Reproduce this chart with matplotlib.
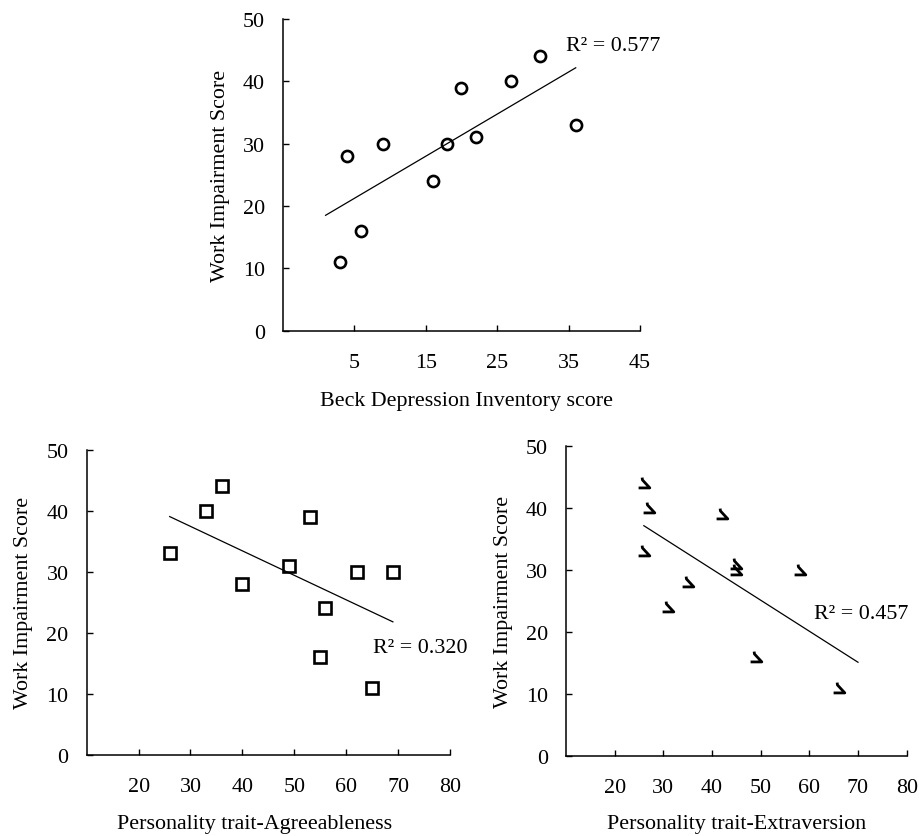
import numpy as np
import matplotlib
matplotlib.use("Agg")
import matplotlib.pyplot as plt
from matplotlib.path import Path

plt.rcParams['font.family'] = ['Liberation Serif', 'DejaVu Serif']

# Data
work_impairment = [11, 28, 16, 30, 24, 30, 39, 31, 40, 44, 33]
bdi = [3, 4, 6, 9, 16, 18, 20, 22, 27, 31, 36]

agree_x = [26, 33, 36, 40, 49, 53, 55, 56, 62, 65, 69]
agree_y = [33, 40, 44, 28, 31, 39, 16, 24, 30, 11, 30]

extra_x = [26, 27, 26, 31, 35, 42, 45, 45, 58, 49, 66]
extra_y = [44, 40, 33, 24, 28, 39, 31, 30, 30, 16, 11]

y_ticks = [0, 10, 20, 30, 40, 50]
bdi_ticks = [5, 15, 25, 35, 45]
trait_ticks = [20, 30, 40, 50, 60, 70, 80]

FS = 15.8

fig = plt.figure(figsize=(9.2, 8.37), dpi=100)
ax_top = fig.add_axes([0.3073, 0.6037, 0.3884, 0.3724])
ax_bl = fig.add_axes([0.0942, 0.0968, 0.3949, 0.3648])
ax_br = fig.add_axes([0.6152, 0.0959, 0.3703, 0.3704])


def style(ax, xlim, xticks, xlabel, ylab_x, xlab_x, xlab_y):
    ax.set_xlim(*xlim)
    ax.set_ylim(0, 50)
    ax.set_xticks(xticks)
    ax.set_yticks(y_ticks)
    for s in ['top', 'right']:
        ax.spines[s].set_visible(False)
    for s in ['left', 'bottom']:
        ax.spines[s].set_linewidth(1.1)
    ax.tick_params(axis='x', direction='in', length=4.5, width=1.0, pad=16, labelsize=FS)
    ax.tick_params(axis='y', direction='in', length=4.5, width=1.0, pad=13, labelsize=FS)
    ax.set_ylabel('Work Impairment Score', fontsize=FS)
    ax.yaxis.set_label_coords(ylab_x, 0.5)
    ax.yaxis.label.set_va('center')
    ax.set_xlabel(xlabel, fontsize=FS)
    ax.xaxis.set_label_coords(xlab_x, xlab_y)
    ax.xaxis.label.set_va('center')


def trend(ax, x, y, x0, x1):
    x = np.asarray(x, float)
    y = np.asarray(y, float)
    m, b = np.polyfit(x, y, 1)
    r2 = np.corrcoef(x, y)[0, 1] ** 2
    xs = np.array([x0, x1])
    ax.plot(xs, m * xs + b, color='black', lw=0.9)
    return r2


# Top: BDI
style(ax_top, (-5, 45), bdi_ticks, 'Beck Depression Inventory score', -0.175, 0.513, -0.2246)
ax_top.plot(bdi, work_impairment, linestyle='none', marker='o', markersize=8,
            markerfacecolor='none', markeredgecolor='black', markeredgewidth=1.9)
r2 = trend(ax_top, bdi, work_impairment, min(bdi) - 2, max(bdi))
ax_top.text(34.7, 45.7, f'R² = {r2:.3f}', fontsize=FS, ha='left', va='center')

# Bottom left: Agreeableness
style(ax_bl, (10, 80), trait_ticks, 'Personality trait-Agreeableness', -0.1745, 0.462, -0.226)
ax_bl.plot(agree_x, agree_y, linestyle='none', marker='s', markersize=8.5,
           markerfacecolor='none', markeredgecolor='black', markeredgewidth=1.9)
r2 = trend(ax_bl, agree_x, agree_y, min(agree_x), max(agree_x))
ax_bl.text(65.1, 17.6, f'R² = {r2:.3f}', fontsize=FS, ha='left', va='center')

# Bottom right: Extraversion
mk = Path([(-0.4, 1.0), (-0.35, 0.6), (0.9, -0.75), (-1.0, -0.75)],
          [Path.MOVETO, Path.LINETO, Path.LINETO, Path.LINETO])
style(ax_br, (10, 80), trait_ticks, 'Personality trait-Extraversion', -0.184, 0.50, -0.220)
ax_br.plot(extra_x, extra_y, linestyle='none', marker=mk, markersize=8.5,
           markerfacecolor='none', markeredgecolor='black', markeredgewidth=2.0)
r2 = trend(ax_br, extra_x, extra_y, min(extra_x), max(extra_x) + 4)
ax_br.text(60.9, 23.0, f'R² = {r2:.3f}', fontsize=FS, ha='left', va='center')

fig.savefig('out.png', dpi=100)
